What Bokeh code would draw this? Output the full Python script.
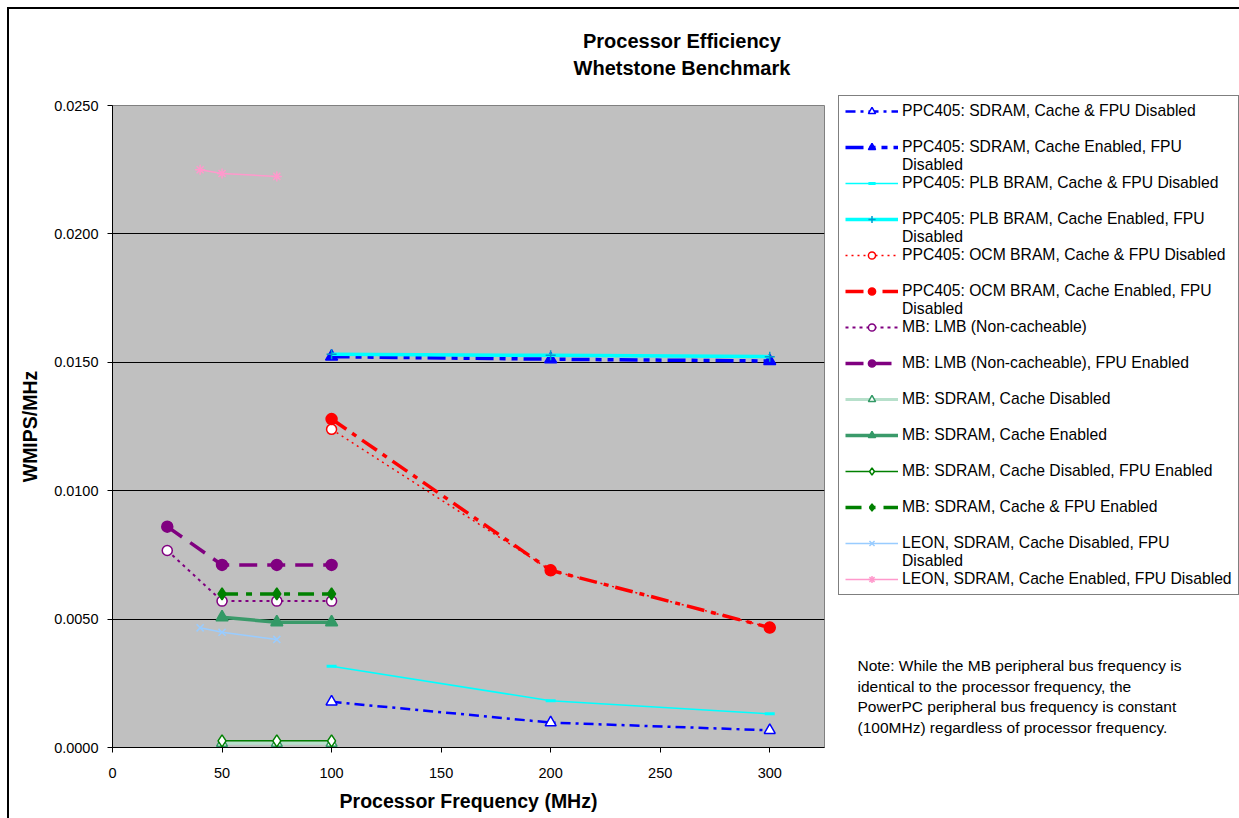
from bokeh.plotting import figure
from bokeh.layouts import column, row
from bokeh.models import Legend, LegendItem, FixedTicker, PrintfTickFormatter, Label, Range1d
from bokeh.embed import file_html
from bokeh.resources import INLINE

FONT = "Liberation Sans"

# ---------------- data ----------------
x_ticks = [0, 50, 100, 150, 200, 250, 300]
y_ticks = [0.0, 0.005, 0.010, 0.015, 0.020, 0.025]

freq_ppc = [100, 200, 300]
ppc_sdram_nocache = [0.00178, 0.00097, 0.00067]
ppc_sdram_cache = [0.01522, 0.01512, 0.01505]
ppc_plb_nocache = [0.00316, 0.00182, 0.00131]
ppc_plb_cache = [0.01531, 0.01527, 0.01522]
ppc_ocm_nocache = [0.01239, 0.00690, 0.00467]
ppc_ocm_cache = [0.01279, 0.00690, 0.00467]

freq_mb_lmb = [25, 50, 75, 100]
mb_lmb = [0.00767, 0.00570, 0.00570, 0.00570]
mb_lmb_fpu = [0.00860, 0.00711, 0.00711, 0.00711]

freq_mb_sdram = [50, 75, 100]
mb_sdram_nocache = [0.00017, 0.00017, 0.00017]
mb_sdram_cache = [0.00507, 0.00488, 0.00488]
mb_sdram_nocache_fpu = [0.00026, 0.00026, 0.00026]
mb_sdram_cache_fpu = [0.00598, 0.00598, 0.00598]

freq_leon = [40, 50, 75]
leon_nocache = [0.00466, 0.00449, 0.00421]
leon_cache = [0.02250, 0.02235, 0.02224]

labels = [
    "PPC405: SDRAM, Cache & FPU Disabled",
    "PPC405: SDRAM, Cache Enabled, FPU Disabled",
    "PPC405: PLB BRAM, Cache & FPU Disabled",
    "PPC405: PLB BRAM, Cache Enabled, FPU Disabled",
    "PPC405: OCM BRAM, Cache & FPU Disabled",
    "PPC405: OCM BRAM, Cache Enabled, FPU Disabled",
    "MB: LMB (Non-cacheable)",
    "MB: LMB (Non-cacheable), FPU Enabled",
    "MB: SDRAM, Cache Disabled",
    "MB: SDRAM, Cache Enabled",
    "MB: SDRAM, Cache Disabled, FPU Enabled",
    "MB: SDRAM, Cache & FPU Enabled",
    "LEON, SDRAM, Cache Disabled, FPU Disabled",
    "LEON, SDRAM, Cache Enabled, FPU Disabled",
]

xs = [freq_ppc] * 6 + [freq_mb_lmb] * 2 + [freq_mb_sdram] * 4 + [freq_leon] * 2
ys = [ppc_sdram_nocache, ppc_sdram_cache, ppc_plb_nocache, ppc_plb_cache,
      ppc_ocm_nocache, ppc_ocm_cache, mb_lmb, mb_lmb_fpu,
      mb_sdram_nocache, mb_sdram_cache, mb_sdram_nocache_fpu, mb_sdram_cache_fpu,
      leon_nocache, leon_cache]

title_lines = ["Processor Efficiency", "Whetstone Benchmark"]
note_lines = [
    "Note: While the MB peripheral bus frequency is",
    "identical to the processor frequency, the",
    "PowerPC peripheral bus frequency is constant",
    "(100MHz) regardless of processor frequency.",
]

# ---------------- styles ----------------
# (line colour, line width, dash, marker, marker fill, marker line colour, marker size, wrap legend)
styles = [
    ("#0000FF", 2.5, "10 5 3 5", "triangle", "white", "#0000FF", 11, False),
    ("#0000FF", 3.5, "18 6 6 6 6 6", "triangle", "#0000FF", "#0000FF", 12, True),
    ("#00FFFF", 1.5, "solid", "dash", "#00FFFF", "#00FFFF", 10, False),
    ("#00FFFF", 3.5, "solid", "cross", "#00FFFF", "#0099CC", 10, True),
    ("#FF0000", 1.5, "2 4", "circle", "white", "#FF0000", 10, False),
    ("#FF0000", 3.5, "18 7 5 7", "circle", "#FF0000", "#FF0000", 11, True),
    ("#800080", 2.0, "3 4", "circle", "white", "#800080", 10, False),
    ("#800080", 3.5, "18 10", "circle", "#800080", "#800080", 11, False),
    ("#B7E0CB", 3.0, "solid", "triangle", "white", "#339966", 11, False),
    ("#3A9A6A", 3.5, "solid", "triangle", "#339966", "#339966", 12, False),
    ("#008000", 1.5, "solid", "diamond", "white", "#008000", 12, False),
    ("#008000", 3.5, "16 8 6 8", "diamond", "#008000", "#008000", 12, False),
    ("#99CCFF", 1.5, "solid", "x", "#99CCFF", "#99CCFF", 10, True),
    ("#FF99CC", 1.5, "solid", "asterisk", "#FF99CC", "#FF99CC", 10, False),
]

# page geometry (root offset by 7px margin + 2px border)
OX, OY = 9, 9
PAGE_W, PAGE_H = 1239, 818
SPLIT_X = 838      # left block | legend block
TITLE_B = 88       # bottom of title strip
LEFT_W = SPLIT_X - OX
RIGHT_W = PAGE_W - SPLIT_X
TITLE_H = TITLE_B - OY
MAIN_H = PAGE_H - TITLE_B
RIGHT_H = PAGE_H - OY


def blank(w, h, x0, x1, y0, y1):
    f = figure(width=w, height=h, output_backend="svg", toolbar_location=None,
               x_range=Range1d(x0, x1), y_range=Range1d(y1, y0),
               x_axis_type=None, y_axis_type=None, min_border=0)
    f.outline_line_color = None
    f.background_fill_color = "white"
    f.border_fill_color = "white"
    f.grid.visible = False
    return f


# ---------------- title strip ----------------
tfig = blank(LEFT_W, TITLE_H, OX, SPLIT_X, OY, TITLE_B)
for t, ty in zip(title_lines, [40, 67]):
    tfig.add_layout(Label(x=672, y=ty, text=t, text_align="center", text_baseline="middle",
                          text_font=FONT, text_font_size="20px", text_font_style="bold",
                          text_color="black"))

# ---------------- main plot ----------------
FL, FT, FW, FH = 112, 105, 712, 642
p = figure(width=LEFT_W, height=MAIN_H, output_backend="svg", toolbar_location=None,
           x_range=Range1d(0, 325), y_range=Range1d(0, 0.025),
           min_border_left=FL - OX, min_border_right=LEFT_W - (FL - OX) - FW,
           min_border_top=FT - TITLE_B, min_border_bottom=MAIN_H - (FT - TITLE_B) - FH)
p.background_fill_color = "#C0C0C0"
p.border_fill_color = "white"
p.outline_line_color = "#808080"
p.outline_line_width = 1

p.xgrid.visible = False
p.ygrid.grid_line_color = "black"
p.ygrid.grid_line_width = 1
p.ygrid.ticker = FixedTicker(ticks=y_ticks)

for ax in (p.xaxis[0], p.yaxis[0]):
    ax.axis_line_color = "black"
    ax.major_tick_line_color = "black"
    ax.major_tick_out = 5
    ax.major_tick_in = 0
    ax.minor_tick_line_color = None
    ax.major_label_text_font = FONT
    ax.major_label_text_font_size = "14.5px"
    ax.major_label_text_color = "black"
    ax.axis_label_text_font = FONT
    ax.axis_label_text_font_size = "19.5px"
    ax.axis_label_text_font_style = "bold"
    ax.axis_label_text_color = "black"

p.xaxis.ticker = FixedTicker(ticks=x_ticks)
p.yaxis.ticker = FixedTicker(ticks=y_ticks)
p.yaxis.formatter = PrintfTickFormatter(format="%.4f")
p.xaxis.axis_label = "Processor Frequency (MHz)"
p.yaxis.axis_label = "WMIPS/MHz"
p.xaxis.major_label_standoff = 15
p.yaxis.major_label_standoff = 9
p.xaxis.axis_label_standoff = 9
p.yaxis.axis_label_standoff = 10

# ---------------- legend + note panel ----------------
q = blank(RIGHT_W, RIGHT_H, SPLIT_X, PAGE_W, OY, PAGE_H)

items = []
n = len(labels)
for i, (lab, x, y, st) in enumerate(zip(labels, xs, ys, styles)):
    color, lw, dash, marker, mfill, mline, msize, wrap = st
    mlw = 3 if marker == "dash" else 1.5
    p.line(x, y, line_color=color, line_width=lw, line_dash=dash)
    p.scatter(x, y, marker=marker, size=msize, fill_color=mfill, line_color=mline, line_width=mlw)
    # legend swatch renderers in the legend panel (their points fall outside its visible range)
    lr = q.line(x, y, line_color=color, line_width=lw, line_dash=dash)
    sr = q.scatter(x, y, marker=marker, size=msize, fill_color=mfill, line_color=mline, line_width=mlw)
    if wrap:
        k = lab.rfind(" ")
        first, second = lab[:k], lab[k + 1:]
    else:
        first, second = lab, " "
    items.append(LegendItem(label=first, renderers=[lr, sr]))
    if i < n - 1 or wrap:
        items.append(LegendItem(label=second, renderers=[]))

PAD, SLOT = 6, 18
LEG_TOP = 97
leg_h = 2 * PAD + SLOT * len(items)
legend = Legend(items=items, location=(0, PAGE_H - (LEG_TOP + leg_h)), orientation="vertical",
                label_text_font=FONT, label_text_font_size="15.7px",
                label_text_color="black", label_height=SLOT, glyph_height=SLOT,
                glyph_width=53, label_standoff=4, spacing=0, padding=PAD, margin=0,
                border_line_color="black", border_line_width=1,
                background_fill_color="white", background_fill_alpha=1.0)
q.add_layout(legend)

for t, ty in zip(note_lines, [665, 685.5, 706, 727]):
    q.add_layout(Label(x=857, y=ty, text=t, text_align="left", text_baseline="middle",
                       text_font=FONT, text_font_size="15.5px", text_color="black"))

root = row(column(tfig, p, spacing=0), q, spacing=0)
root.styles = {"margin-left": "7px", "margin-top": "7px",
               "border-left": "2px solid black", "border-top": "2px solid black"}

open("out.html", "w").write(file_html(root, INLINE))
